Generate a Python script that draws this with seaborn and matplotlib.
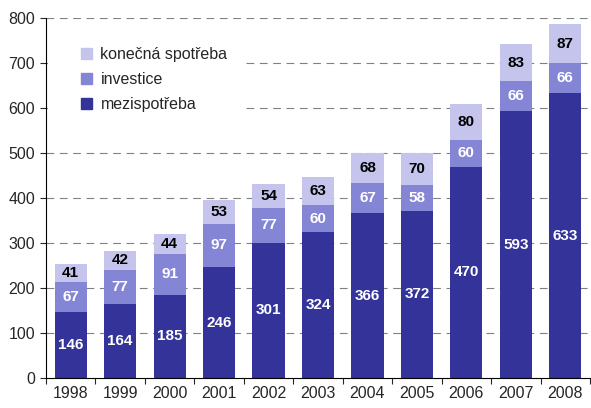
import numpy as np
import pandas as pd
import matplotlib
matplotlib.use("Agg")
import matplotlib.pyplot as plt
import seaborn as sns
from matplotlib.patches import Patch, Rectangle

years = ["1998", "1999", "2000", "2001", "2002", "2003", "2004", "2005", "2006", "2007", "2008"]
mezispotreba = [146, 164, 185, 246, 301, 324, 366, 372, 470, 593, 633]
investice = [67, 77, 91, 97, 77, 60, 67, 58, 60, 66, 66]
konecna = [41, 42, 44, 53, 54, 63, 68, 70, 80, 83, 87]

c_dark = "#333399"
c_mid = "#8585d6"
c_light = "#c4c4ec"

sns.set_style("white")
plt.rcParams["font.family"] = ["Liberation Sans", "DejaVu Sans"]

df = pd.DataFrame({"rok": years, "mez": mezispotreba, "inv": investice, "kon": konecna})
df["s2"] = df["mez"] + df["inv"]
df["s3"] = df["s2"] + df["kon"]

fig = plt.figure(figsize=(5.91, 4.08), dpi=100)
ax = fig.add_axes([46 / 591, 30 / 408, 544 / 591, 360 / 408])

# draw cumulative totals from the back to the front
sns.barplot(data=df, x="rok", y="s3", color=c_light, width=0.65, saturation=1, ax=ax, linewidth=0)
sns.barplot(data=df, x="rok", y="s2", color=c_mid, width=0.65, saturation=1, ax=ax, linewidth=0)
sns.barplot(data=df, x="rok", y="mez", color=c_dark, width=0.65, saturation=1, ax=ax, linewidth=0)
for p in ax.patches:
    p.set_zorder(3)
    p.set_edgecolor("none")

fs = 11.5
fs_bar = 11
for i in range(len(years)):
    ax.text(i, df["mez"][i] / 2, str(df["mez"][i]), ha="center", va="center",
            color="white", fontsize=fs_bar, fontweight="bold", zorder=5)
    ax.text(i, df["mez"][i] + df["inv"][i] / 2, str(df["inv"][i]), ha="center", va="center",
            color="white", fontsize=fs_bar, fontweight="bold", zorder=5)
    ax.text(i, df["s2"][i] + df["kon"][i] / 2, str(df["kon"][i]), ha="center", va="center",
            color="black", fontsize=fs_bar, fontweight="bold", zorder=5)

ax.set_xlim(-0.5, len(years) - 0.5)
ax.set_ylim(0, 800)
ax.set_yticks(range(0, 801, 100))
ax.set_xlabel("")
ax.set_ylabel("")

for y in range(100, 801, 100):
    ax.axhline(y, color="#808080", lw=0.8, ls=(0, (7, 5)), zorder=1)

# white box behind the legend hides the gridlines there
ax.add_patch(Rectangle((0.003, (390 - 135) / 360), (245 - 47) / 544, 100 / 360,
                       transform=ax.transAxes, facecolor="white", edgecolor="none", zorder=2))

for s in ["top", "right"]:
    ax.spines[s].set_visible(False)
for s in ["left", "bottom"]:
    ax.spines[s].set_color("black")
    ax.spines[s].set_linewidth(0.8)
    ax.spines[s].set_zorder(4)

ax.set_xticks(np.arange(-0.5, len(years), 1.0), minor=True)
ax.tick_params(axis="x", which="major", length=0, labelsize=fs, pad=6)
ax.tick_params(axis="x", which="minor", length=4, width=0.8, direction="out", bottom=True)
ax.tick_params(axis="y", length=4, width=0.8, direction="out", left=True, labelsize=fs, pad=4)

handles = [Patch(color=c_light), Patch(color=c_mid), Patch(color=c_dark)]
leg = ax.legend(handles, ["konečná spotřeba", "investice", "mezispotřeba"],
                loc="upper left", bbox_to_anchor=(0.037, 0.958), frameon=False,
                fontsize=fs, handlelength=0.7, handleheight=0.7, labelspacing=0.62,
                handletextpad=0.55)
leg.set_zorder(6)

fig.savefig("out.png", dpi=100)
